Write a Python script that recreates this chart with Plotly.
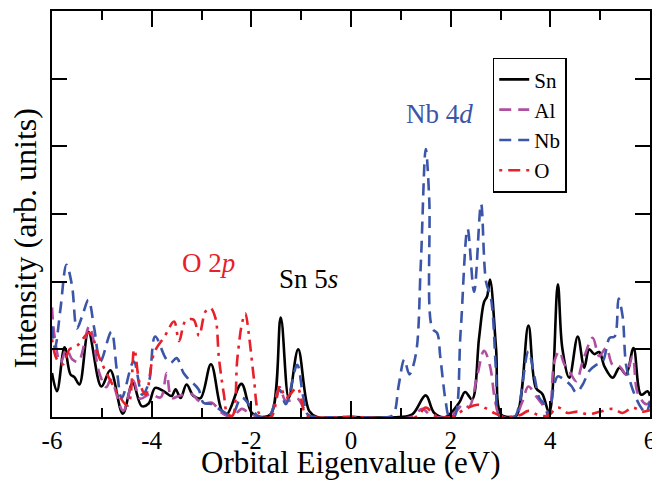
import plotly.graph_objects as go

# ---------------- data ----------------
sn_x = [-6.0, -5.9, -5.75, -5.63, -5.55, -5.45, -5.27, -5.01, -4.83, -4.58, -4.38, -4.2, -4.06,
        -3.93, -3.76, -3.6, -3.52, -3.42, -3.3, -3.16, -3.02, -2.81, -2.59, -2.49, -2.2, -1.99,
        -1.79, -1.6, -1.41, -1.25, -1.06, -0.84, -0.68, 0.0, 0.96, 1.23, 1.5, 1.67, 1.9, 2.17,
        2.29, 2.43, 2.57, 2.67, 2.73, 2.79, 2.91, 3.01, 3.18, 3.32, 3.56, 3.71, 3.84, 3.98,
        4.15, 4.24, 4.38, 4.55, 4.68, 4.78, 4.88, 4.98, 5.09, 5.25, 5.39, 5.52, 5.67, 5.82,
        5.95, 6.0]
sn_y = [0.65, 0.38, 1.03, 0.63, 0.59, 0.48, 1.26, 0.45, 0.69, 0.05, 0.5, 0.16, 0.2,
        0.43, 0.38, 0.31, 0.41, 0.28, 0.48, 0.31, 0.28, 0.78, 0.09, 0.04, 0.49, 0.06,
        0.0, 0.05, 1.47, 0.28, 1.0, 0.09, 0.0, 0.0, 0.0, 0.04, 0.32, 0.06, 0.0, 0.21,
        0.37, 0.26, 1.17, 1.7, 1.78, 2.03, 1.02, 0.04, 0.0, 0.02, 1.35, 0.43, 0.34, 0.06,
        1.96, 1.02, 0.58, 1.19, 0.73, 1.0, 0.93, 0.96, 0.74, 0.58, 0.73, 0.63, 1.02, 0.33,
        0.38, 0.31]

al_x = [-6.0, -5.95, -5.83, -5.71, -5.59, -5.47, -5.25, -5.05, -4.91, -4.82, -4.57, -4.37,
        -4.23, -4.03, -3.82, -3.7, -3.6, -3.46, -3.2, -3.06, -2.95, -2.79, -2.59, -2.39,
        -2.19, -2.05, -1.85, -1.65, -1.43, -1.31, -1.07, -0.94, -0.8, 0.0, 1.21, 1.43, 1.61,
        1.93, 2.13, 2.25, 2.37, 2.53, 2.67, 2.79, 2.89, 2.99, 3.28, 3.44, 3.56, 3.71, 3.91,
        3.98, 4.08, 4.18, 4.28, 4.38, 4.52, 4.65, 4.85, 4.98, 5.12, 5.25, 5.39, 5.52, 5.65,
        5.75, 5.92, 6.0]
al_y = [1.62, 1.2, 0.8, 1.0, 0.85, 0.82, 1.34, 0.65, 0.44, 0.55, 0.09, 0.54,
        0.27, 0.34, 0.29, 0.65, 0.28, 0.31, 0.34, 0.24, 0.2, 0.21, 0.06, 0.0,
        0.12, 0.06, 0.0, 0.0, 0.44, 0.24, 0.27, 0.12, 0.0, 0.0, 0.0, 0.12, 0.02,
        0.0, 0.1, 0.19, 0.15, 0.6, 0.98, 0.75, 0.25, 0.02, 0.0, 0.23, 0.45, 0.31, 0.11,
        0.02, 0.82, 0.97, 0.78, 0.68, 0.53, 0.82, 1.17, 0.9, 1.02, 0.77, 0.75, 0.63, 0.9,
        0.36, 0.19, 0.22]

nb_x = [-6.0, -5.94, -5.83, -5.71, -5.6, -5.5, -5.39, -5.27, -5.15, -5.03, -4.81, -4.7,
        -4.6, -4.36, -4.19, -4.06, -3.93, -3.72, -3.62, -3.5, -3.36, -3.26, -3.06, -2.96,
        -2.79, -2.59, -2.39, -2.2, -2.02, -1.85, -1.65, -1.43, -1.31, -1.08, -0.96, -0.86,
        -0.64, 0.0, 0.76, 0.86, 0.96, 1.07, 1.17, 1.3, 1.4, 1.5, 1.57, 1.63, 1.73, 1.79,
        1.9, 1.97, 2.07, 2.2, 2.34, 2.47, 2.61, 2.71, 2.81, 2.91, 2.99, 3.28, 3.38, 3.56,
        3.68, 3.78, 3.88, 3.96, 4.08, 4.15, 4.28, 4.42, 4.52, 4.65, 4.78, 4.92, 5.05, 5.19,
        5.29, 5.37, 5.45, 5.52, 5.62, 5.72, 5.82, 5.92, 6.0]
nb_y = [1.34, 1.02, 1.6, 2.25, 1.95, 1.31, 1.5, 1.73, 1.3, 0.82, 1.26, 0.7,
        0.28, 0.82, 0.33, 0.5, 1.19, 0.87, 0.8, 0.87, 0.65, 0.56, 0.41, 0.21,
        0.19, 0.09, 0.03, 0.29, 0.16, 0.0, 0.0, 0.4, 0.19, 0.77, 0.3, 0.03,
        0.0, 0.0, 0.0, 0.05, 0.48, 0.85, 0.63, 0.92, 2.25, 3.96, 3.22, 1.31, 1.24, 0.9,
        0.23, 0.01, 0.0, 1.26, 2.78, 1.85, 3.15, 2.0, 1.75, 0.68, 0.0, 0.0, 0.2, 0.97,
        0.6, 0.28, 0.19, 0.02, 0.48, 0.6, 0.55, 0.46, 0.36, 0.48, 0.68, 0.77, 0.82, 1.17,
        1.19, 1.75, 1.49, 0.77, 0.48, 0.28, 0.14, 0.06, 0.24]

o_x = [-6.0, -5.9, -5.78, -5.65, -5.5, -5.25, -5.03, -4.72, -4.48, -4.35, -4.24, -4.12,
       -3.95, -3.74, -3.55, -3.45, -3.32, -3.16, -3.05, -2.92, -2.82, -2.72, -2.65, -2.55,
       -2.48, -2.38, -2.28, -2.18, -2.12, -2.05, -1.95, -1.85, -1.75, -1.6, -1.42, -1.31,
       -1.08, -0.92, -0.8, 0.0, 1.3, 1.5, 1.7, 2.0, 2.3, 2.55, 2.7, 2.9, 3.1, 3.4, 3.56,
       3.75, 3.95, 4.15, 4.35, 4.55, 4.75, 5.0, 5.25, 5.45, 5.65, 5.85, 6.0]
o_y = [1.15, 0.85, 0.78, 1.0, 1.05, 1.24, 0.84, 0.4, 0.17, 1.0, 0.5, 0.33,
       0.95, 1.19, 1.41, 1.12, 1.42, 1.44, 1.2, 1.56, 1.61, 1.46, 0.87, 0.33,
       0.05, 0.02, 0.87, 1.41, 1.53, 1.22, 0.58, 0.06, 0.0, 0.0, 0.46, 0.28,
       0.43, 0.05, 0.0, 0.0, 0.0, 0.14, 0.02, 0.0, 0.12, 0.18, 0.13, 0.05, 0.0, 0.03, 0.09,
       0.03, 0.02, 0.14, 0.06, 0.08, 0.04, 0.08, 0.12, 0.06, 0.14, 0.08, 0.1]

x_tick_vals = [-6, -4, -2, 0, 2, 4, 6]
x_tick_text = ["-6", "-4", "-2", "0", "2", "4", "6"]

# ---------------- styling ----------------
FONT = "Liberation Serif, Times New Roman, serif"
C_SN = "#000000"
C_AL = "#b04ea0"
C_NB = "#3b55a8"
C_O = "#e8202a"

fig = go.Figure()
common = dict(mode="lines", line_shape="spline")
fig.add_trace(go.Scatter(x=sn_x, y=sn_y, name="Sn", line=dict(color=C_SN, width=2.6, smoothing=1.0), **common))
fig.add_trace(go.Scatter(x=al_x, y=al_y, name="Al", line=dict(color=C_AL, width=2.6, dash="12px,7px", smoothing=1.0), **common))
fig.add_trace(go.Scatter(x=nb_x, y=nb_y, name="Nb", line=dict(color=C_NB, width=2.6, dash="12px,7px", smoothing=1.0), **common))
fig.add_trace(go.Scatter(x=o_x, y=o_y, name="O", line=dict(color=C_O, width=2.6, dash="3px,6px,12px,6px", smoothing=1.0), **common))

# the page adds an 8px body margin, so the figure is sized/margined to compensate
fig.update_layout(
    width=652, height=474,
    margin=dict(l=44, r=10, t=1, b=65),
    paper_bgcolor="white", plot_bgcolor="white",
    font=dict(family=FONT, color="black", size=26),
    showlegend=True,
    legend=dict(x=0.737, y=0.885, xanchor="left", yanchor="top",
                bgcolor="white", bordercolor="black", borderwidth=1.5,
                font=dict(family=FONT, size=21), tracegroupgap=0, itemwidth=30,
                entrywidth=50),
    annotations=[
        dict(text="Nb 4<i>d</i>", x=1.77, y=4.48, xref="x", yref="y", showarrow=False,
             font=dict(family=FONT, size=27, color=C_NB)),
        dict(text="O 2<i>p</i>", x=-2.86, y=2.28, xref="x", yref="y", showarrow=False,
             font=dict(family=FONT, size=27, color=C_O)),
        dict(text="Sn 5<i>s</i>", x=-0.86, y=2.04, xref="x", yref="y", showarrow=False,
             font=dict(family=FONT, size=27, color="black")),
        dict(text="Intensity (arb. units)", x=-0.045, y=0.44, xref="paper", yref="paper",
             showarrow=False, textangle=-90, xanchor="center", yanchor="middle",
             font=dict(family=FONT, size=32, color="black")),
        dict(text="Orbital Eigenvalue (eV)", x=0.5, y=-0.112, xref="paper", yref="paper",
             showarrow=False, xanchor="center", yanchor="middle",
             font=dict(family=FONT, size=31, color="black")),
    ],
)

fig.update_xaxes(range=[-6, 6], tickvals=x_tick_vals, ticktext=x_tick_text,
                 ticks="inside", ticklen=16, tickwidth=1.5, tickcolor="black",
                 showline=True, linecolor="black", linewidth=1.5, mirror="ticks",
                 showgrid=False, zeroline=False,
                 tickfont=dict(family=FONT, size=25, color="black"),
                 minor=dict(dtick=1, ticks="inside", ticklen=9, tickwidth=1.5, tickcolor="black", showgrid=False))
fig.update_yaxes(range=[0, 6], dtick=1, ticks="inside", ticklen=15, tickwidth=1.5, tickcolor="black",
                 showline=True, linecolor="black", linewidth=1.5, mirror="ticks",
                 showgrid=False, zeroline=False, showticklabels=False)

fig.write_html("out.html")
